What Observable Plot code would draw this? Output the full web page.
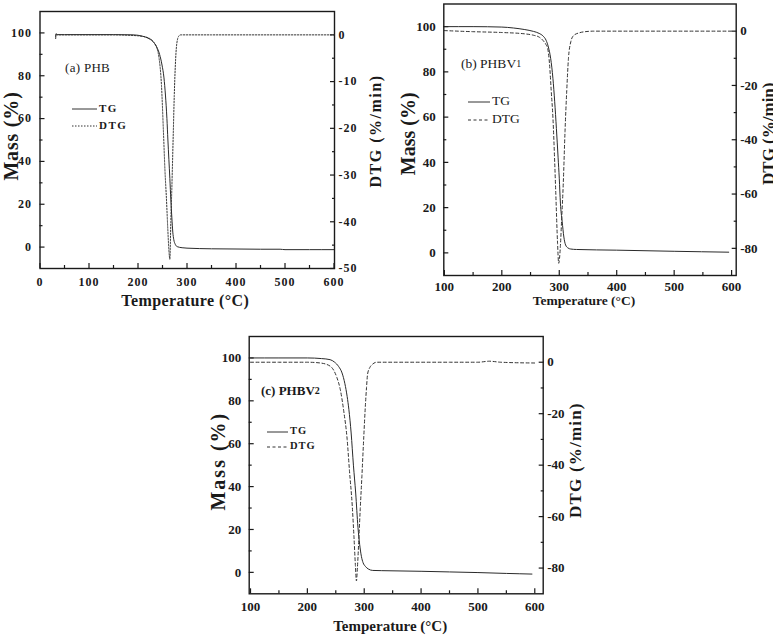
<!DOCTYPE html>
<html><head><meta charset="utf-8">
<script src="https://cdn.jsdelivr.net/npm/d3@7"></script>
<script src="https://cdn.jsdelivr.net/npm/@observablehq/plot@0.6"></script>
<style>
body{margin:0;background:#fff;}
#wrap{position:relative;width:773px;height:639px;overflow:hidden;background:#fff;}
.panel{position:absolute;}
.panel svg{position:absolute;left:0;top:0;overflow:visible;}
#legend{position:absolute;left:0;top:0;pointer-events:none;}
.spaced g[aria-label="x-axis tick label"] text,.spaced g[aria-label="y-axis tick label"] text{letter-spacing:1px;}
</style></head><body><div id="wrap"></div>
<script>
// ---------- Data ----------
// (a) PHB
const phbTgTemp = [32, 33, 35, 50, 100, 150, 190, 200, 210, 220, 230, 238, 244, 249, 253, 256, 259, 261, 263, 265, 267, 269, 271, 273, 276, 280, 290, 300, 350, 400, 450, 490, 500, 550, 600];
const phbTgMass = [98.2, 99.5, 99.2, 99.2, 99.2, 99.2, 99.1, 98.9, 98.4, 97.6, 96, 93.5, 90, 85, 79, 71, 60, 50, 41, 32, 22, 14, 7, 3.5, 1.3, 0.2, -0.3, -0.5, -0.8, -0.9, -1, -1, -1.2, -1.2, -1.2];
const phbDtgTemp = [32, 33, 35, 100, 150, 200, 220, 235, 243, 248, 252, 255, 258, 261, 263, 265, 267, 269, 272, 274, 276, 279, 283, 287, 350, 450, 600];
const phbDtg = [-0.8, 0.3, 0, 0, 0, -0.2, -0.6, -2, -5, -11, -21, -29, -35, -42, -46, -48, -40, -33, -21, -13, -7, -2, -0.3, 0, 0, 0, 0];
// (b) PHBV1
const v1TgTemp = [100, 150, 200, 220, 240, 255, 265, 272, 277, 281, 285, 289, 292, 295, 298, 300, 302, 305, 308, 311, 315, 320, 330, 400, 500, 595];
const v1TgMass = [100, 100, 99.8, 99.4, 98.7, 97.9, 97, 95.8, 94, 91, 86, 77, 67, 55, 42, 33, 22, 14, 7, 3.5, 2.2, 1.7, 1.5, 1.2, 0.7, 0.3];
const v1DtgTemp = [100, 150, 200, 240, 255, 265, 272, 277, 280, 283, 286, 289, 292, 294, 297, 299, 302, 304, 307, 310, 313, 316, 320, 325, 335, 345, 360, 450, 600];
const v1Dtg = [0.2, -0.2, -0.5, -1, -1.5, -2.2, -3.5, -5, -6.5, -12, -22, -32, -48, -60, -78, -85.5, -79, -70, -56, -37, -22, -10, -4, -1.6, -0.6, -0.2, 0, 0, 0];
// (c) PHBV2
const v2TgTemp = [100, 150, 200, 225, 240, 248, 255, 261, 266, 270, 273, 277, 281, 285, 289, 292, 295, 298, 302, 307, 315, 330, 400, 450, 500, 550, 595];
const v2TgMass = [100, 100, 100, 99.7, 99.2, 98, 96, 93, 88, 82, 76, 65, 50, 37, 21, 13, 7.5, 4.5, 2.8, 1.6, 0.9, 0.8, 0.5, 0.2, -0.1, -0.5, -0.8];
const v2DtgTemp = [100, 150, 200, 223, 240, 246, 252, 258, 264, 270, 274, 279, 282, 284.5, 286.3, 288, 290.5, 293, 296, 299, 302, 304, 306, 310, 314, 322, 340, 450, 500, 520, 540, 600];
const v2Dtg = [0, 0, 0, -0.3, -1.5, -3, -6, -10.7, -19, -30, -42, -56, -68, -79, -85, -80, -69, -57, -44, -30, -17, -10, -4.5, -2, -0.9, 0, 0, 0, 0, 0.4, 0, -0.3];

// Tick values
const xTicksA = [0, 100, 200, 300, 400, 500, 600];
const xMinorA = [50, 150, 250, 350, 450, 550];
const xTicksB = [100, 200, 300, 400, 500, 600];
const xMinorB = [150, 250, 350, 450, 550];
const massTicks = [0, 20, 40, 60, 80, 100];
const massMinor = [10, 30, 50, 70, 90];
const dtgTicksA = [0, -10, -20, -30, -40, -50];
const dtgMinorA = [-5, -15, -25, -35, -45];
const dtgTicksB = [0, -20, -40, -60, -80];
const dtgMinorB = [-10, -30, -50, -70];

const wrap = document.getElementById("wrap");
const serif = "'Liberation Serif','Times New Roman',serif";
const ink = "#1a1a1a";

function panel(cfg) {
  const div = document.createElement("div");
  div.className = "panel" + (cfg.spaced ? " spaced" : "");
  div.style.left = cfg.left + "px";
  div.style.top = cfg.top + "px";
  div.style.width = cfg.width + "px";
  div.style.height = cfg.height + "px";
  const common = {
    width: cfg.width, height: cfg.height,
    marginLeft: cfg.m[0], marginRight: cfg.m[1], marginTop: cfg.m[2], marginBottom: cfg.m[3],
    style: {fontFamily: serif, fontSize: cfg.tickFont + "px", background: "transparent", color: ink}
  };
  const tg = cfg.tgT.map((t, i) => ({t, v: cfg.tgV[i]}));
  const dtg = cfg.dtgT.map((t, i) => ({t, v: cfg.dtgV[i]}));
  const fmt = d => String(d);
  const left = Plot.plot({
    ...common,
    x: {domain: cfg.xDomain, label: null},
    y: {domain: [-10, 110], label: null},
    marks: [
      Plot.axisX(cfg.xTicks, {tickSize: -5, tickPadding: cfg.lx, tickFormat: fmt, fontWeight: "bold", stroke: ink, strokeWidth: 1.2}),
      Plot.axisX(cfg.xMinor, {tickSize: -3, tickFormat: () => "", stroke: ink, strokeWidth: 1.2}),
      Plot.axisY(massTicks, {tickSize: -5, tickPadding: 13, tickFormat: fmt, fontWeight: "bold", stroke: ink, strokeWidth: 1.2}),
      Plot.axisY(massMinor, {tickSize: -3, tickFormat: () => "", stroke: ink, strokeWidth: 1.2}),
      Plot.line(tg, {x: "t", y: "v", stroke: "#2a2a2a", strokeWidth: 1, curve: "monotone-x"}),
      Plot.frame({stroke: ink, strokeWidth: 1.4}),
      Plot.text(["Mass (%)"], {frameAnchor: "left", textAnchor: "middle", lineAnchor: "middle", dx: cfg.massDx, dy: cfg.massDy, rotate: -90, fontSize: 20, fontWeight: "bold", fill: ink}),
      Plot.text(["Temperature (°C)"], {frameAnchor: "bottom", textAnchor: "middle", lineAnchor: "middle", dx: cfg.tDx, dy: cfg.tDy, fontSize: cfg.tFont, fontWeight: "bold", fill: ink})
    ]
  });
  const right = Plot.plot({
    ...common,
    x: {domain: cfg.xDomain, axis: null},
    y: {domain: cfg.dtgDomain, label: null},
    marks: [
      Plot.axisY(cfg.dtgTicks, {anchor: "right", tickSize: -5, tickPadding: 9, tickFormat: fmt, fontWeight: "bold", stroke: ink, strokeWidth: 1.2}),
      Plot.axisY(cfg.dtgMinor, {anchor: "right", tickSize: -3, tickFormat: () => "", stroke: ink, strokeWidth: 1.2}),
      Plot.line(dtg, {x: "t", y: "v", stroke: "#333", strokeWidth: 1, strokeDasharray: cfg.dash, curve: "monotone-x"}),
      Plot.text(["DTG (%/min)"], {frameAnchor: "right", textAnchor: "middle", lineAnchor: "middle", dx: cfg.dtgDx, dy: cfg.dtgDy, rotate: -90, fontSize: cfg.dtgFont, fontWeight: "bold", fill: ink})
    ]
  });
  div.appendChild(left);
  div.appendChild(right);
  wrap.appendChild(div);
  return [left, right];
}

function spacing(svgs, label, sp) {
  for (const svg of svgs) {
    svg.querySelectorAll("text").forEach(t => {
      if (t.textContent === label) t.setAttribute("letter-spacing", sp);
    });
  }
}

const pa = panel({left: 0, top: 0, width: 390, height: 320, m: [39.5, 56, 11, 52], spaced: true, tickFont: 12,
  xDomain: [0, 601], xTicks: xTicksA, xMinor: xMinorA, lx: 14,
  dtgDomain: [-50, 5], dtgTicks: dtgTicksA, dtgMinor: dtgMinorA,
  tgT: phbTgTemp, tgV: phbTgMass, dtgT: phbDtgTemp, dtgV: phbDtg, dash: "1.5,1.5",
  massDx: -28.5, massDy: -4, tDx: -2, tDy: 32, tFont: 16, dtgDx: 41, dtgDy: -9, dtgFont: 16});
spacing(pa, "Mass (%)", 0.8); spacing(pa, "Temperature (°C)", 0.4); spacing(pa, "DTG (%/min)", 1.5);

const pb = panel({left: 390, top: 0, width: 383, height: 315, m: [53.3, 37.3, 3.5, 40], tickFont: 13,
  xDomain: [99, 608], xTicks: xTicksB, xMinor: xMinorB, lx: 11,
  dtgDomain: [-90, 10], dtgTicks: dtgTicksB, dtgMinor: dtgMinorB,
  tgT: v1TgTemp, tgV: v1TgMass, dtgT: v1DtgTemp, dtgV: v1Dtg, dash: "3,2.5",
  massDx: -35, massDy: -6, tDx: -6, tDy: 25, tFont: 13.5, dtgDx: 32, dtgDy: -6, dtgFont: 17});
spacing(pb, "Mass (%)", 0);

const pc = panel({left: 200, top: 320, width: 400, height: 319, m: [48.7, 57.3, 16, 45.7], tickFont: 13,
  xDomain: [97.7, 614.8], xTicks: xTicksB, xMinor: xMinorB, lx: 13,
  dtgDomain: [-90, 10], dtgTicks: dtgTicksB, dtgMinor: dtgMinorB,
  tgT: v2TgTemp, tgV: v2TgMass, dtgT: v2DtgTemp, dtgV: v2Dtg, dash: "3,2.5",
  massDx: -31, massDy: -4, tDx: -6, tDy: 32, tFont: 15, dtgDx: 32, dtgDy: -5, dtgFont: 17});
spacing(pc, "Mass (%)", 2); spacing(pc, "DTG (%/min)", 1.2);

// ---------- Legends & panel labels ----------
const NS = "http://www.w3.org/2000/svg";
const leg = document.createElementNS(NS, "svg");
leg.setAttribute("id", "legend");
leg.setAttribute("width", 773);
leg.setAttribute("height", 639);
wrap.appendChild(leg);
function line(x1, x2, y, dash) {
  const l = document.createElementNS(NS, "line");
  l.setAttribute("x1", x1); l.setAttribute("x2", x2);
  l.setAttribute("y1", y); l.setAttribute("y2", y);
  l.setAttribute("stroke", "#333"); l.setAttribute("stroke-width", 1);
  if (dash) l.setAttribute("stroke-dasharray", dash);
  leg.appendChild(l);
}
function text(x, y, parts, size, weight, spacing) {
  const t = document.createElementNS(NS, "text");
  t.setAttribute("x", x); t.setAttribute("y", y);
  t.setAttribute("dominant-baseline", "middle");
  t.setAttribute("font-family", serif);
  t.setAttribute("font-size", size);
  t.setAttribute("font-weight", weight || "normal");
  t.setAttribute("fill", ink);
  if (spacing) t.setAttribute("letter-spacing", spacing);
  for (const p of parts) {
    const s = document.createElementNS(NS, "tspan");
    s.textContent = p[0];
    if (p[1]) s.setAttribute("font-size", p[1]);
    t.appendChild(s);
  }
  leg.appendChild(t);
}
// (a)
text(65, 69, [["(a) PHB"]], 13, "normal", 0.3);
line(72, 97, 109, null); text(99, 109, [["TG"]], 11, "bold", 1.5);
line(72, 97, 126, "1.5,1.5"); text(99, 126, [["DTG"]], 11, "bold", 1.5);
// (b)
text(461, 65, [["(b) PHBV"], ["1", 10]], 13.5, "normal");
line(468, 490, 102, null); text(492, 102, [["TG"]], 13.5, "normal");
line(468, 490, 120, "3,2.5"); text(492, 120, [["DTG"]], 13.5, "normal");
// (c)
text(261, 392, [["(c) PHBV"], ["2", 10]], 13, "bold");
line(267, 288, 432, null); text(290, 432, [["TG"]], 10.5, "bold", 1);
line(267, 288, 447, "3,2.5"); text(290, 447, [["DTG"]], 10.5, "bold", 1);
</script></body></html>
